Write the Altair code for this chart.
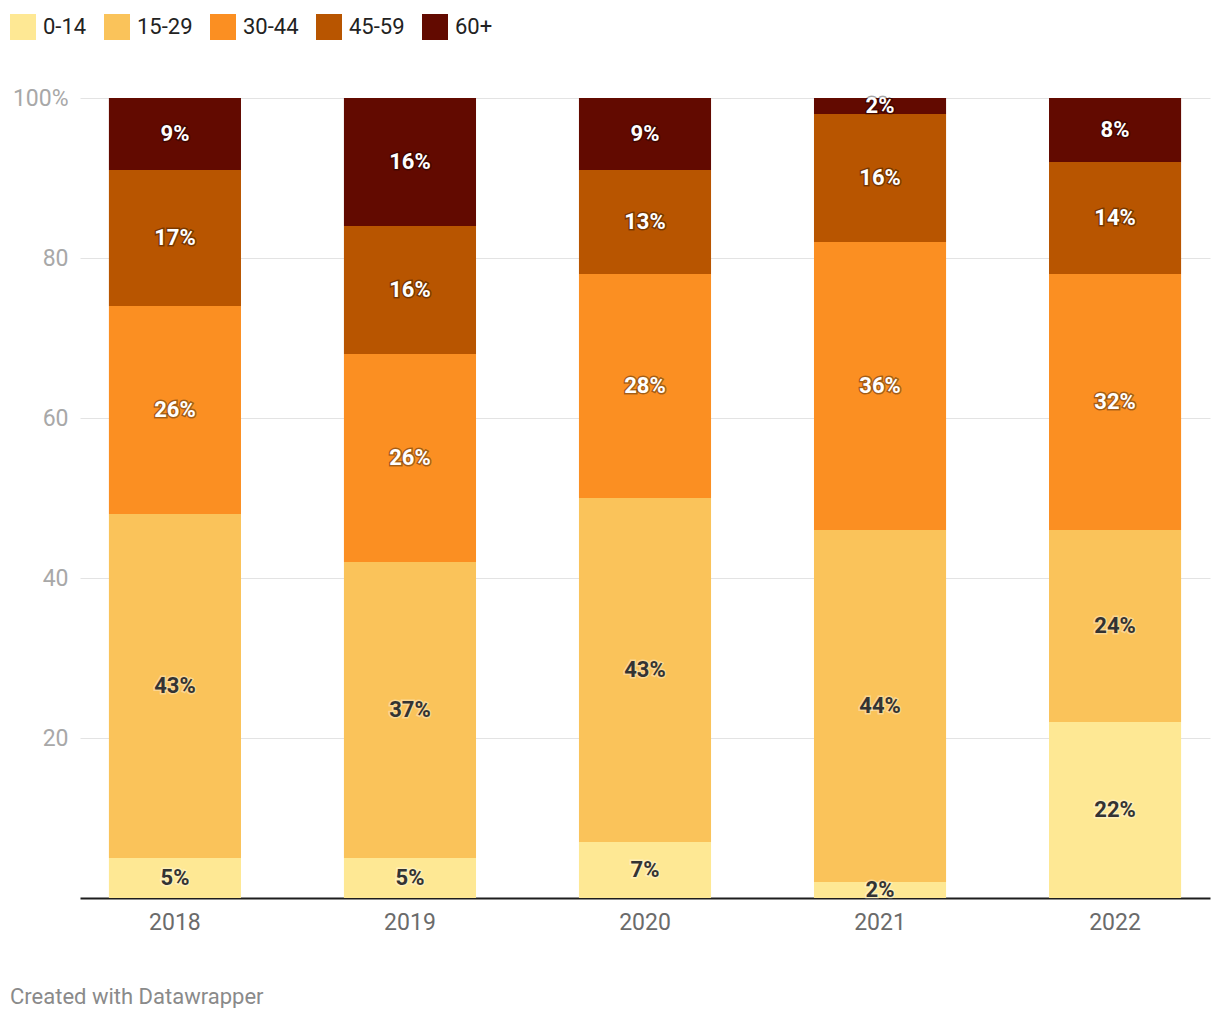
import altair as alt
import pandas as pd

years = ["2018", "2019", "2020", "2021", "2022"]
groups = ["0-14", "15-29", "30-44", "45-59", "60+"]
colors = ["#fee894", "#fac35a", "#fb8f22", "#b85500", "#620a00"]
v_0_14 = [5, 5, 7, 2, 22]
v_15_29 = [43, 37, 43, 44, 24]
v_30_44 = [26, 26, 28, 36, 32]
v_45_59 = [17, 16, 13, 16, 14]
v_60 = [9, 16, 9, 2, 8]
series = [v_0_14, v_15_29, v_30_44, v_45_59, v_60]

rows = []
for gi, (g, vals) in enumerate(zip(groups, series)):
    for y, v in zip(years, vals):
        rows.append({"year": y, "group": g, "order": gi, "value": v,
                     "dark": g in ("30-44", "45-59", "60+")})
df = pd.DataFrame(rows)

FONT = "Roboto"

base = alt.Chart(df).transform_stack(
    stack="value", as_=["y0", "y1"], groupby=["year"], sort=[{"field": "order", "order": "ascending"}]
).transform_calculate(mid="(datum.y0 + datum.y1) / 2", lbl="datum.value + '%'")

xenc = alt.X("year:N", sort=years,
             scale=alt.Scale(paddingInner=0.438, paddingOuter=0.123),
             axis=alt.Axis(title=None, labelAngle=0, labelFontSize=23, labelColor="#6b6b6b",
                           labelFont=FONT, ticks=False, domainColor="#1d1d1d", domainWidth=2,
                           labelPadding=13, grid=False))

bars = base.mark_bar().encode(
    x=xenc,
    y=alt.Y("y0:Q", scale=alt.Scale(domain=[0, 100], nice=False),
            axis=alt.Axis(title=None, values=[20, 40, 60, 80, 100], labelFontSize=23,
                          labelColor="#a8a8a8", labelFont=FONT, ticks=False, domain=False,
                          gridColor="#e3e3e3", gridWidth=1, labelPadding=12,
                          labelExpr="datum.value == 100 ? '100%' : datum.label")),
    y2="y1:Q",
    color=alt.Color("group:N", sort=groups, scale=alt.Scale(domain=groups, range=colors),
                    legend=alt.Legend(title=None, orient="none", legendX=-70, legendY=-84,
                                      direction="horizontal", symbolType="square",
                                      symbolSize=676, symbolStrokeWidth=0, labelFontSize=22,
                                      labelFont=FONT, labelColor="#222222", labelOffset=7,
                                      columnPadding=17, padding=0, symbolOpacity=1)),
    order=alt.Order("order:Q"),
)

halo = base.mark_text(fontSize=22, fontWeight="bold", font=FONT, baseline="middle",
                      strokeWidth=3, strokeOpacity=0.35, fillOpacity=0).encode(
    x=alt.X("year:N", sort=years),
    y="mid:Q",
    text="lbl:N",
    stroke=alt.condition("datum.dark", alt.value("#000000"), alt.value("#ffffff")),
)

labels = base.mark_text(fontSize=22, fontWeight="bold", font=FONT, baseline="middle").encode(
    x=alt.X("year:N", sort=years),
    y="mid:Q",
    text="lbl:N",
    color=alt.condition("datum.dark", alt.value("#ffffff"), alt.value("#333333")),
)

footer = alt.Chart(pd.DataFrame({"t": ["Created with Datawrapper"]})).mark_text(
    align="left", baseline="middle", fontSize=22, font=FONT, color="#8a8a8a"
).encode(x=alt.value(-70), y=alt.value(899), text="t:N")

chart = alt.layer(bars, halo, labels, footer).properties(
    width=1130, height=800,
    background="white",
    autosize=alt.AutoSizeParams(type="none"),
    padding={"left": 72, "top": 90, "right": 2, "bottom": 110},
).configure_view(strokeWidth=0)

chart.save("out.html", embed_options={"renderer": "svg", "actions": False})
